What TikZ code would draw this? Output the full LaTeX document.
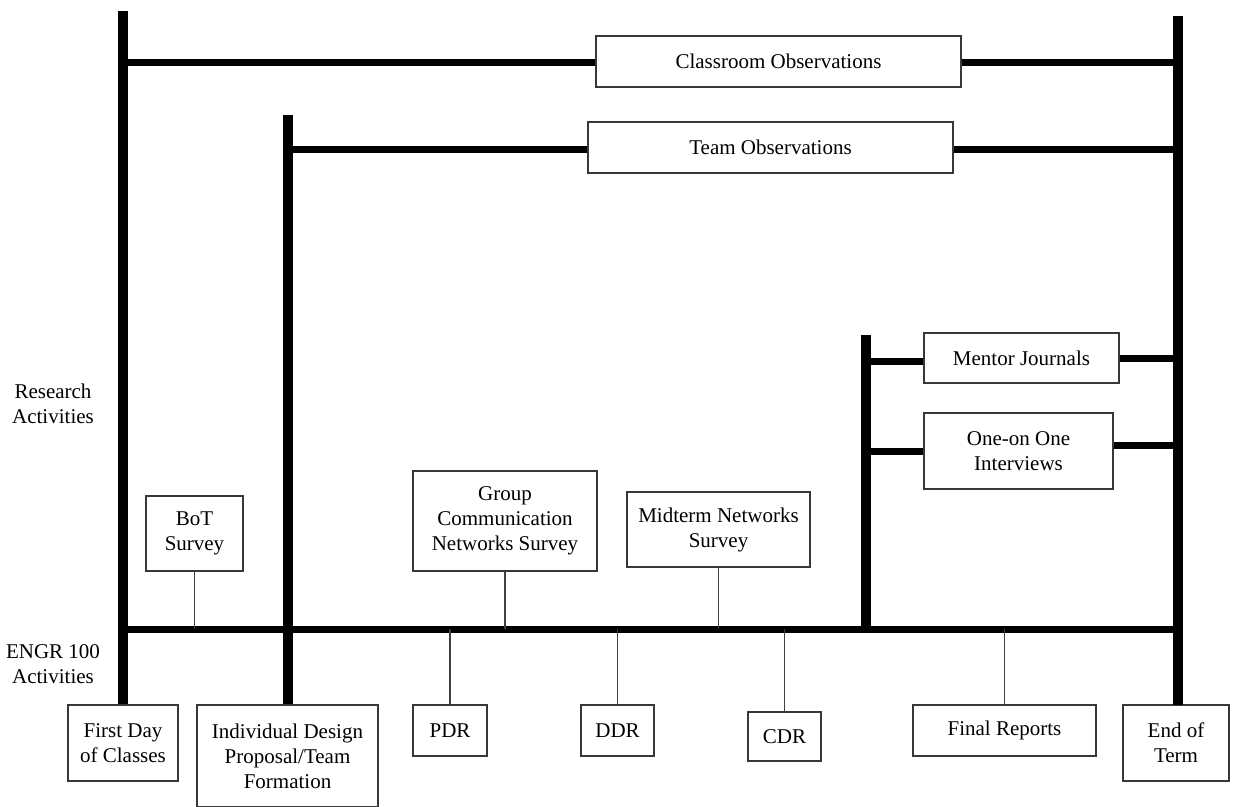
\documentclass[tikz,border=0pt]{standalone}
\usepackage{fontspec}
\setmainfont{Liberation Serif}
\begin{document}
\begin{tikzpicture}[x=1pt,y=-1pt,
  bx/.style={draw=black!78, line width=1.3pt, align=center, inner sep=0pt, fill=white,
    font=\fontsize{21}{25}\selectfont},
  lbl/.style={align=center, inner sep=0pt, font=\fontsize{21}{25}\selectfont},
  thickv/.style={line width=10pt, black},
  thickh/.style={line width=7pt, black},
  thin/.style={line width=1.5pt, black!75}]
\useasboundingbox (0,0) rectangle (1233,806);

% anchor coordinates
\coordinate (v1t) at (123,11);
\coordinate (v2t) at (288,115);
\coordinate (v3t) at (866,335);
\coordinate (v4t) at (1178,16);
\coordinate (v4b) at (1178,705);
\coordinate (e1) at (123,629);
\coordinate (e2) at (288,629);
\coordinate (e3) at (866,629);
\coordinate (e4) at (1178,629);
\coordinate (c1) at (123,62);
\coordinate (c4) at (1178,62);
\coordinate (t2) at (288,149.5);
\coordinate (t4) at (1178,149.5);
\coordinate (m3) at (866,361.5);
\coordinate (m4) at (1178,358.5);
\coordinate (i3) at (866,451);
\coordinate (i4) at (1178,445);

% labels
\node[lbl] (research) at (53,404) {Research\\Activities};
\node[lbl] (engr) at (53,664) {ENGR 100\\Activities};

% boxes
\node[bx, minimum width=365, minimum height=51] (classroom) at (778.5,61.5) {Classroom Observations};
\node[bx, minimum width=365, minimum height=51] (team) at (770.5,147.5) {Team Observations};
\node[bx, minimum width=195, minimum height=50] (mentor) at (1021.5,358) {Mentor Journals};
\node[bx, minimum width=189, minimum height=76] (interviews) at (1018.5,451) {One-on One\\Interviews};
\node[bx, minimum width=97, minimum height=75] (bot) at (194.5,533.5) {BoT\\Survey};
\node[bx, minimum width=184, minimum height=100] (group) at (505,521) {Group\\Communication\\Networks Survey};
\node[bx, minimum width=183, minimum height=75] (midterm) at (718.5,529.5) {Midterm Networks\\Survey};
\node[bx, minimum width=110, minimum height=76] (first) at (123,743) {First Day\\of Classes};
\node[bx, minimum width=181, minimum height=102] (indiv) at (287.5,756) {Individual Design\\Proposal/Team\\Formation};
\node[bx, minimum width=74, minimum height=51] (pdr) at (450,730.5) {PDR};
\node[bx, minimum width=73, minimum height=51] (ddr) at (617.5,730.5) {DDR};
\node[bx, minimum width=73, minimum height=49] (cdr) at (784.5,736.5) {CDR};
\node[bx, minimum width=183, minimum height=51] (final) at (1004.5,730.5) {Final Reports};
\node[bx, minimum width=106, minimum height=76] (endterm) at (1176,743) {End of\\Term};

% thick vertical lines
\draw[thickv] (v1t) -- (first.north -| v1t);
\draw[thickv] (v2t) -- (indiv.north -| v2t);
\draw[thickv] (v3t) -- (e3);
\draw[thickv] (v4t) -- (v4b);

% thick horizontal lines
\draw[thickh] (e1) -- (e4);
\draw[thickh] (c1) -- (classroom.west |- c1);
\draw[thickh] (classroom.east |- c4) -- (c4);
\draw[thickh] (t2) -- (team.west |- t2);
\draw[thickh] (team.east |- t4) -- (t4);
\draw[thickh] (m3) -- (mentor.west |- m3);
\draw[thickh] (mentor.east |- m4) -- (m4);
\draw[thickh] (i3) -- (interviews.west |- i3);
\draw[thickh] (interviews.east |- i4) -- (i4);

% thin connectors
\draw[thin] (bot.south) -- (bot.south |- e1);
\draw[thin] (group.south) -- (group.south |- e1);
\draw[thin] (midterm.south) -- (midterm.south |- e1);
\draw[thin] (pdr.north) -- (pdr.north |- e1);
\draw[thin] (ddr.north) -- (ddr.north |- e1);
\draw[thin] (cdr.north) -- (cdr.north |- e1);
\draw[thin] (final.north) -- (final.north |- e1);
\end{tikzpicture}
\end{document}
